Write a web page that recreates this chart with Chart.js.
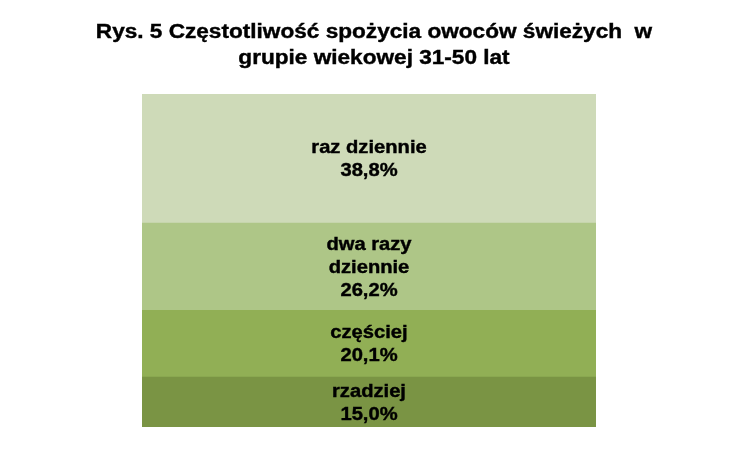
<!DOCTYPE html>
<html>
<head>
<meta charset="utf-8">
<script src="https://cdn.jsdelivr.net/npm/chart.js@4/dist/chart.umd.min.js"></script>
<style>
  html, body { margin: 0; padding: 0; background: #fff; }
  #wrap { width: 750px; height: 450px; }
</style>
</head>
<body>
<div id="wrap"><canvas id="chart"></canvas></div>
<script>
// data, bottom segment first
const categories = ['rzadziej', 'częściej', ['dwa razy', 'dziennie'], 'raz dziennie'];
const values = [15.0, 20.1, 26.2, 38.8];
const colors = ['#7A9444', '#91AF55', '#AEC687', '#CEDAB8'];
const titleLines = ['Rys. 5 Częstotliwość spożycia owoców świeżych  w', 'grupie wiekowej 31-50 lat'];

const total = values.reduce((a, b) => a + b, 0);
const fmt = (v) => v.toFixed(1).replace('.', ',') + '%';

// the original picture is stretched sideways, so text is widened a bit
const drawStretched = (ctx, text, x, y, sx) => {
  ctx.save();
  ctx.translate(x, y);
  ctx.scale(sx, 1);
  ctx.fillText(text, 0, 0);
  ctx.strokeText(text, 0, 0);
  ctx.restore();
};

const textPlugin = {
  id: 'texts',
  afterDatasetsDraw(chart) {
    const ctx = chart.ctx;
    ctx.save();
    ctx.fillStyle = '#000';
    ctx.strokeStyle = '#000';
    ctx.lineWidth = 0.4;
    ctx.textAlign = 'center';
    ctx.textBaseline = 'middle';

    // title
    ctx.font = 'bold 20px "Liberation Sans", Arial, sans-serif';
    titleLines.forEach((line, i) => drawStretched(ctx, line, 374, 32 + i * 26, 1.13));

    // segment labels
    ctx.font = 'bold 18px "Liberation Sans", Arial, sans-serif';
    chart.data.datasets.forEach((ds, i) => {
      const bar = chart.getDatasetMeta(i).data[0];
      const cat = categories[i];
      const lines = (Array.isArray(cat) ? cat : [cat]).concat(fmt(values[i]));
      const mid = (bar.y + bar.base) / 2 + 1;
      const lh = 23;
      const y0 = mid - (lines.length - 1) * lh / 2;
      lines.forEach((t, k) => drawStretched(ctx, t, bar.x, y0 + k * lh, 1.12));
    });
    ctx.restore();
  }
};

new Chart(document.getElementById('chart'), {
  type: 'bar',
  data: {
    labels: [''],
    datasets: values.map((v, i) => ({
      label: Array.isArray(categories[i]) ? categories[i].join(' ') : categories[i],
      data: [v],
      backgroundColor: colors[i],
      borderWidth: 0,
      barPercentage: 1,
      categoryPercentage: 1
    }))
  },
  options: {
    responsive: true,
    maintainAspectRatio: false,
    animation: false,
    layout: { padding: { left: 142, right: 154, top: 94, bottom: 23 } },
    scales: {
      x: { stacked: true, display: false },
      y: { stacked: true, display: false, min: 0, max: total }
    },
    plugins: {
      legend: { display: false },
      tooltip: { enabled: false },
      title: { display: false }
    }
  },
  plugins: [textPlugin]
});
</script>
</body>
</html>
